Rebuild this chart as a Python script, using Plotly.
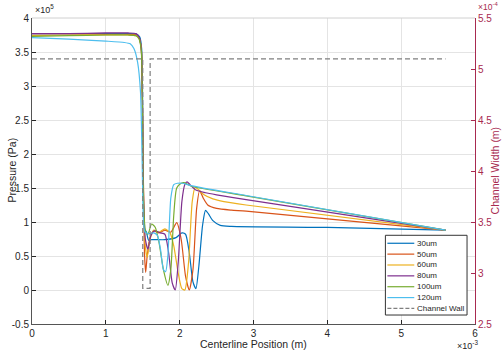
import plotly.graph_objects as go

# ---------------- data (x in 1e-3 m, pressure in 1e5 Pa, width in 1e-4 m) -------------
series_names = ["30um", "50um", "60um", "80um", "100um", "120um"]
series_colors = ["#0072BD", "#D95319", "#EDB120", "#7E2F8E", "#77AC30", "#4DBEEE"]

x_30 = [0, 0.5, 1.0, 1.3, 1.42, 1.46, 1.485, 1.50, 1.51, 1.525, 1.55, 1.58, 1.62, 1.8, 1.95,
        2.03, 2.08, 2.13, 2.18, 2.22, 2.26, 2.31, 2.35, 2.39, 2.45, 2.55, 2.7, 4.0, 5.6]
p_30 = [3.77, 3.77, 3.77, 3.77, 3.76, 3.72, 3.55, 2.6, 1.3, 0.9, 0.85, 0.73, 0.74, 0.74, 0.77,
        0.84, 0.82, 0.55, 0.12, 0.02, 0.35, 0.95, 1.17, 1.12, 1.02, 0.95, 0.935, 0.92, 0.88]

x_50 = [0, 0.5, 1.0, 1.3, 1.41, 1.45, 1.48, 1.495, 1.51, 1.525, 1.54, 1.56, 1.60, 1.65, 1.72,
        1.80, 1.88, 1.96, 2.02, 2.08, 2.13, 2.18, 2.23, 2.27, 2.32, 2.38, 2.5, 2.7, 2.9, 5.6]
p_50 = [3.77, 3.77, 3.76, 3.76, 3.75, 3.71, 3.55, 2.8, 1.5, 0.5, 0.26, 0.5, 0.78, 0.87, 0.84,
        0.88, 0.85, 0.99, 0.75, 0.2, 0.0, 0.3, 1.2, 1.46, 1.35, 1.25, 1.20, 1.175, 1.16, 0.88]

x_60 = [0, 0.5, 1.0, 1.3, 1.41, 1.45, 1.48, 1.495, 1.51, 1.53, 1.56, 1.60, 1.65, 1.72, 1.80,
        1.87, 1.92, 1.98, 2.03, 2.07, 2.12, 2.17, 2.21, 2.26, 2.33, 2.45, 2.6, 2.9, 5.6]
p_60 = [3.74, 3.75, 3.75, 3.75, 3.74, 3.70, 3.55, 2.8, 1.5, 0.7, 0.48, 0.75, 0.88, 0.85, 0.9,
        0.84, 0.65, 0.25, 0.02, 0.0, 0.4, 1.3, 1.51, 1.47, 1.40, 1.34, 1.30, 1.25, 0.88]

x_80 = [0, 0.5, 1.0, 1.3, 1.41, 1.45, 1.48, 1.495, 1.51, 1.535, 1.57, 1.61, 1.66, 1.74, 1.80,
        1.85, 1.90, 1.94, 1.98, 2.03, 2.07, 2.10, 2.14, 2.22, 2.35, 2.5, 2.9, 5.6]
p_80 = [3.77, 3.77, 3.78, 3.78, 3.77, 3.72, 3.55, 2.8, 1.4, 0.75, 0.6, 0.8, 0.87, 0.84, 0.82,
        0.55, 0.1, 0.0, 0.4, 1.3, 1.55, 1.59, 1.55, 1.47, 1.43, 1.40, 1.33, 0.88]

x_100 = [0, 0.5, 1.0, 1.3, 1.41, 1.45, 1.48, 1.495, 1.51, 1.54, 1.57, 1.62, 1.67, 1.72, 1.78,
         1.84, 1.88, 1.92, 1.96, 2.02, 2.06, 2.15, 2.9, 5.6]
p_100 = [3.73, 3.74, 3.75, 3.75, 3.74, 3.69, 3.52, 2.8, 1.3, 0.85, 0.82, 0.97, 0.92, 0.7, 0.3,
         0.07, 0.3, 1.1, 1.5, 1.57, 1.58, 1.53, 1.385, 0.88]

x_120 = [0, 0.5, 1.0, 1.25, 1.33, 1.38, 1.43, 1.47, 1.49, 1.51, 1.53, 1.58, 1.65, 1.70, 1.74,
         1.78, 1.81, 1.84, 1.88, 1.92, 1.97, 2.04, 2.15, 2.9, 5.6]
p_120 = [3.71, 3.69, 3.66, 3.64, 3.62, 3.55, 3.35, 2.9, 2.0, 1.0, 0.85, 0.83, 0.84, 0.8, 0.6,
         0.3, 0.27, 0.5, 1.35, 1.55, 1.57, 1.57, 1.535, 1.39, 0.88]

wall_x = [0, 1.5, 1.5, 1.6, 1.6, 5.6]
wall_w = [5.1, 5.1, 2.85, 2.85, 5.1, 5.1]
wall_name = "Channel Wall"

x_ticks = [0, 1, 2, 3, 4, 5, 6]
x_ticklabels = ["0", "1", "2", "3", "4", "5", "6"]
p_ticks = [-0.5, 0, 0.5, 1, 1.5, 2, 2.5, 3, 3.5, 4]
p_ticklabels = ["-0.5", "0", "0.5", "1", "1.5", "2", "2.5", "3", "3.5", "4"]
w_ticks = [2.5, 3, 3.5, 4, 4.5, 5, 5.5]
w_ticklabels = ["2.5", "3", "3.5", "4", "4.5", "5", "5.5"]

xs = [x_30, x_50, x_60, x_80, x_100, x_120]
ps = [p_30, p_50, p_60, p_80, p_100, p_120]

# ---------------- figure -------------
W, H = 504, 351
ML, MR, MT, MB = 30, 29, 18, 26
PW, PH = W - ML - MR, H - MT - MB
FONT = "Liberation Sans, Arial, Helvetica, sans-serif"
AX = "#262626"
RIGHT = "#A82A50"
GRID = "#e4e4e4"


def fx(px):
    return (px - ML) / PW


def fy(py):
    return (H - MB - py) / PH


fig = go.Figure()
for name, col, x, p in zip(series_names, series_colors, xs, ps):
    fig.add_trace(go.Scatter(x=x, y=p, mode="lines", name=name,
                             line=dict(color=col, width=1.2, shape="spline", smoothing=0.6),
                             showlegend=False))
fig.add_trace(go.Scatter(x=wall_x, y=wall_w, mode="lines", name=wall_name, yaxis="y2",
                         line=dict(color="#7f7f7f", width=1.2, dash="5px,3px"),
                         showlegend=False))

fig.update_layout(
    width=W, height=H, autosize=False,
    margin=dict(l=ML, r=MR, t=MT, b=MB, pad=0),
    paper_bgcolor="white", plot_bgcolor="white",
    font=dict(family=FONT, size=10, color=AX),
    xaxis=dict(range=[0, 6], tickvals=x_ticks, ticktext=x_ticklabels, ticks="inside",
               ticklen=4, tickcolor=AX, showline=True, linecolor="#555555", linewidth=1,
               showgrid=True, gridcolor=GRID, gridwidth=1, zeroline=False,
               tickfont=dict(size=10, color=AX)),
    yaxis=dict(range=[-0.5, 4], tickvals=p_ticks, ticktext=p_ticklabels, ticks="inside",
               ticklen=4, tickcolor=AX, showline=True, linecolor="#555555", linewidth=1,
               showgrid=True, gridcolor=GRID, gridwidth=1, zeroline=False,
               tickfont=dict(size=10, color=AX)),
    yaxis2=dict(range=[2.5, 5.5], tickvals=w_ticks, ticktext=w_ticklabels, overlaying="y",
                side="right", ticks="inside", ticklen=4, tickcolor=RIGHT, showline=True,
                linecolor=RIGHT, linewidth=1, showgrid=False, zeroline=False,
                tickfont=dict(size=10, color=RIGHT)),
)

shapes = [dict(type="line", xref="paper", yref="paper", x0=0, x1=1, y0=1, y1=1,
               line=dict(color="#d0d0d0", width=1))]
annotations = [
    dict(text="Centerline Position (m)", xref="paper", yref="paper", x=fx(253), y=fy(345),
         showarrow=False, font=dict(size=10.5, color=AX), xanchor="center", yanchor="middle"),
    dict(text="Pressure (Pa)", xref="paper", yref="paper", x=fx(9), y=fy(171),
         showarrow=False, textangle=-90, font=dict(size=10.5, color=AX),
         xanchor="center", yanchor="middle"),
    dict(text="Channel Width (m)", xref="paper", yref="paper", x=fx(495), y=fy(171),
         showarrow=False, textangle=-90, font=dict(size=10.5, color=RIGHT),
         xanchor="center", yanchor="middle"),
    dict(text="×10<sup>5</sup>", xref="paper", yref="paper", x=fx(31), y=fy(9),
         showarrow=False, font=dict(size=9, color=AX), xanchor="left", yanchor="middle"),
    dict(text="×10<sup>-4</sup>", xref="paper", yref="paper", x=fx(500), y=fy(6),
         showarrow=False, font=dict(size=8.5, color=RIGHT), xanchor="right",
         yanchor="middle"),
    dict(text="×10<sup>-3</sup>", xref="paper", yref="paper", x=fx(455), y=fy(346),
         showarrow=False, font=dict(size=9, color=AX), xanchor="left", yanchor="middle"),
]

# custom legend (compact, like MATLAB)
LX0, LX1, LY0, LY1 = 385, 467, 236, 316
shapes.append(dict(type="rect", xref="paper", yref="paper", x0=fx(LX0), x1=fx(LX1),
                   y0=fy(LY1), y1=fy(LY0), line=dict(color="#333333", width=1),
                   fillcolor="white", layer="above"))
leg_names = series_names + [wall_name]
leg_colors = series_colors + ["#7f7f7f"]
for i, (nm, col) in enumerate(zip(leg_names, leg_colors)):
    yy = 244 + i * 10.9
    shapes.append(dict(type="line", xref="paper", yref="paper", x0=fx(387), x1=fx(414),
                       y0=fy(yy), y1=fy(yy), layer="above",
                       line=dict(color=col, width=1.2,
                                 dash="4px,2px" if nm == wall_name else "solid")))
    annotations.append(dict(text=nm, xref="paper", yref="paper", x=fx(415), y=fy(yy),
                            showarrow=False, xanchor="left", yanchor="middle",
                            font=dict(size=8, color=AX)))

fig.update_layout(shapes=shapes, annotations=annotations)
fig.write_html("out.html")
